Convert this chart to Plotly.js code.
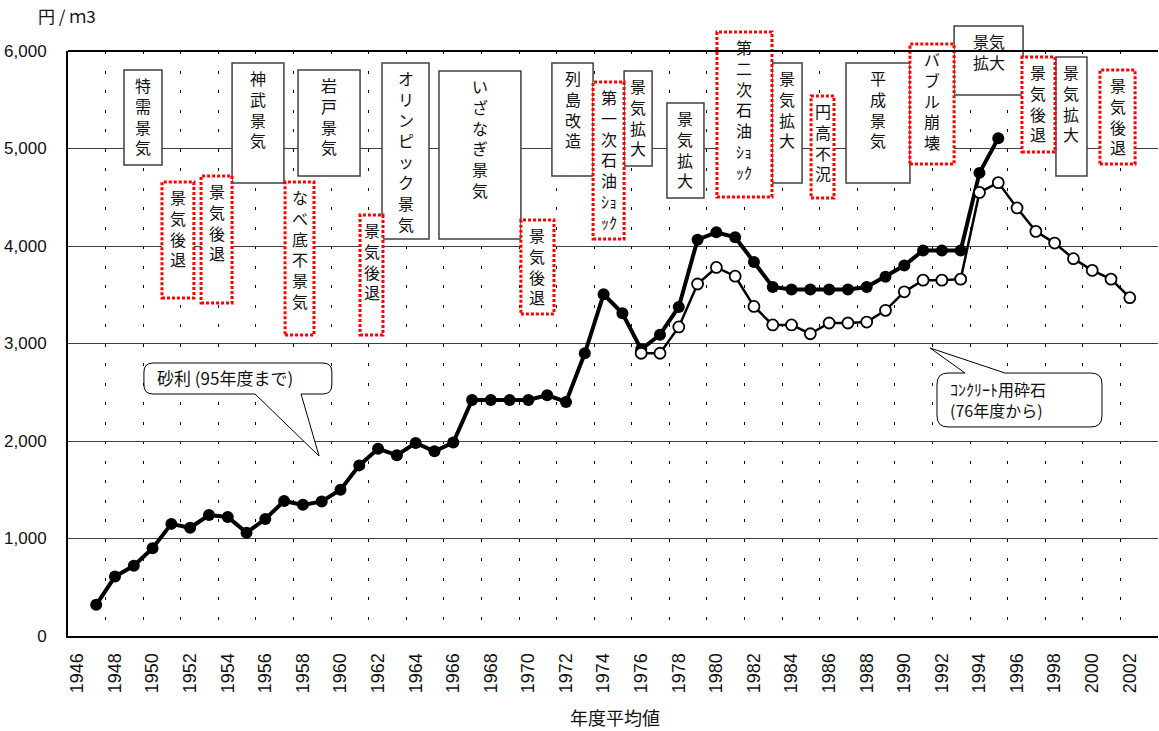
<!DOCTYPE html>
<html><head><meta charset="utf-8">
<script src="https://cdn.plot.ly/plotly-3.0.1.min.js"></script>
<style>html,body{margin:0;padding:0;background:#fff}</style>
</head><body>
<div id="chart" style="width:1159px;height:731px"></div>
<script>
// ---- data ----
const gravelYears = [1947,1948,1949,1950,1951,1952,1953,1954,1955,1956,1957,1958,1959,1960,1961,1962,1963,1964,1965,1966,1967,1968,1969,1970,1971,1972,1973,1974,1975,1976,1977,1978,1979,1980,1981,1982,1983,1984,1985,1986,1987,1988,1989,1990,1991,1992,1993,1994,1995];
const gravelPrice = [320,610,720,900,1150,1110,1240,1220,1060,1200,1385,1345,1380,1500,1750,1920,1855,1980,1895,1985,2420,2420,2420,2420,2470,2400,2900,3505,3310,2940,3090,3375,4065,4140,4090,3835,3580,3555,3555,3555,3555,3580,3685,3800,3955,3955,3955,4750,5105];
const stoneYears = [1976,1977,1978,1979,1980,1981,1982,1983,1984,1985,1986,1987,1988,1989,1990,1991,1992,1993,1994,1995,1996,1997,1998,1999,2000,2001,2002];
const stonePrice = [2900,2900,3170,3610,3780,3690,3380,3190,3190,3100,3210,3210,3220,3340,3530,3650,3650,3660,4550,4650,4390,4150,4030,3870,3750,3660,3470];
const tickYears = [1946,1948,1950,1952,1954,1956,1958,1960,1962,1964,1966,1968,1970,1972,1974,1976,1978,1980,1982,1984,1986,1988,1990,1992,1994,1996,1998,2000,2002];
const tickLabels = tickYears.map(String);
const yTicks = [0,1000,2000,3000,4000,5000,6000];

// ---- business-cycle labels (text rows) ----
const boomLabels = [
  ['特','需','景','気'], ['神','武','景','気'], ['岩','戸','景','気'],
  ['オ','リ','ン','ピ','ッ','ク','景','気'], ['い','ざ','な','ぎ','景','気'],
  ['列','島','改','造'], ['景','気','拡','大'], ['景','気','拡','大'],
  ['景','気','拡','大'], ['平','成','景','気'], ['景気','拡大'], ['景','気','拡','大']
];
const recessionLabels = [
  ['景','気','後','退'], ['景','気','後','退'], ['な','べ','底','不','景','気'],
  ['景','気','後','退'], ['景','気','後','退'], ['第','一','次','石','油','ｼｮ','ｯｸ'],
  ['第','二','次','石','油','ｼｮ','ｯｸ'], ['円','高','不','況'], ['バ','ブ','ル','崩','壊'],
  ['景','気','後','退'], ['景','気','後','退']
];

// ---- layout geometry (axis units) ----
const X_MIN = 1945.5, X_MAX = 2003.5, Y_MAX = 6000;
const PW = 1090, PH = 585;
const px = yr => (yr - X_MIN) / (X_MAX - X_MIN);
const py = v => v / Y_MAX;
const dx = p => p / PW, dy = p => p / PH;

const boomPos = [
  [1948.48,1950.50,5805,4831],[1954.23,1956.99,5877,4646],[1957.74,1961.04,5805,4718],
  [1962.21,1964.71,5877,4072],[1965.24,1969.60,5795,4072],[1971.25,1973.44,5877,4718],
  [1975.09,1976.58,5795,4821],[1977.37,1979.34,5467,4492],[1982.96,1984.56,5877,4646],
  [1986.90,1990.30,5877,4646],[1992.65,1996.32,6256,5549],[1998.07,1999.72,5938,4718]
];
const recPos = [
  [1950.50,1952.20,4656,3467],[1952.58,1954.23,4718,3415],[1957.05,1958.59,4656,3087],
  [1961.04,1962.26,4318,3087],[1969.60,1971.36,4267,3303],[1973.44,1975.09,5682,4072],
  [1980.03,1982.96,6195,4503],[1985.04,1986.26,5538,4492],[1990.30,1992.65,6072,4841],
  [1996.26,1998.02,5938,4964],[2000.41,2002.28,5805,4841]
];

const shapes = [];
const annotations = [];
const CJK = '"Noto Sans CJK JP", "Noto Sans", sans-serif';

function addBox(rows, pos, dotted) {
  const [x0, x1, top, bot] = pos;
  shapes.push({
    type: 'rect', xref: 'paper', yref: 'paper', layer: 'above',
    x0: px(x0), x1: px(x1), y0: py(bot), y1: py(top),
    fillcolor: '#ffffff',
    line: dotted ? {color: '#ff0000', width: 3, dash: '3px,2px'} : {color: '#404040', width: 1.5}
  });
  annotations.push({
    xref: 'paper', yref: 'paper', showarrow: false,
    x: px((x0 + x1) / 2), y: py(top) - dy(1),
    xanchor: 'center', yanchor: 'top', align: 'center', text: rows.join('<br>'),
    font: {family: CJK, size: 16, color: '#111'}
  });
}
boomLabels.forEach((r, i) => addBox(r, boomPos[i], false));
recessionLabels.forEach((r, i) => addBox(r, recPos[i], true));

// top frame line
shapes.push({type: 'line', xref: 'paper', yref: 'paper', x0: 0, x1: 1, y0: 1, y1: 1, line: {color: '#000', width: 2}, layer: 'above'});

// callout bubbles
function callout(x0, x1, top, bot, wedgeTop, wA, wB, tx, ty, r) {
  const X0 = px(x0), X1 = px(x1), T = py(top), B = py(bot);
  const rx = dx(r), ry = dy(r);
  const A = px(wA), Bw = px(wB), TX = px(tx), TY = py(ty);
  let p = `M${X0 + rx},${T}`;
  if (wedgeTop) p += ` L${A},${T} L${TX},${TY} L${Bw},${T}`;
  p += ` L${X1 - rx},${T} Q${X1},${T} ${X1},${T - ry} L${X1},${B + ry} Q${X1},${B} ${X1 - rx},${B}`;
  if (!wedgeTop) p += ` L${Bw},${B} L${TX},${TY} L${A},${B}`;
  p += ` L${X0 + rx},${B} Q${X0},${B} ${X0},${B + ry} L${X0},${T - ry} Q${X0},${T} ${X0 + rx},${T} Z`;
  shapes.push({type: 'path', xref: 'paper', yref: 'paper', path: p, fillcolor: '#ffffff', line: {color: '#000', width: 1}, layer: 'above'});
}
callout(1949.54, 1959.54, 2800, 2482, false, 1955.45, 1957.90, 1958.86, 1846, 9);
callout(1991.74, 2000.52, 2697, 2144, true, 1993.23, 1995.36, 1991.37, 2954, 11);

annotations.push({xref: 'paper', yref: 'paper', showarrow: false, x: px(1950.13), y: py(2656),
  xanchor: 'left', yanchor: 'middle', text: '砂利 (95年度まで)', font: {family: CJK, size: 17, color: '#111'}});
annotations.push({xref: 'paper', yref: 'paper', showarrow: false, x: px(1992.33), y: py(2426),
  xanchor: 'left', yanchor: 'middle', align: 'left', text: 'ｺﾝｸﾘｰﾄ用砕石<br>(76年度から)', font: {family: CJK, size: 16, color: '#111'}});

// titles
annotations.push({xref: 'paper', yref: 'paper', showarrow: false, x: dx(67 - 68), y: dy(636 - 15),
  xanchor: 'center', yanchor: 'middle', text: '円 / ｍ3', font: {family: CJK, size: 17, color: '#111'}});
annotations.push({xref: 'paper', yref: 'paper', showarrow: false, x: dx(615 - 68), y: dy(636 - 717),
  xanchor: 'center', yanchor: 'middle', text: '年度平均値', font: {family: CJK, size: 18, color: '#111'}});
// cut-off bracket note at the very top
annotations.push({xref: 'paper', yref: 'paper', showarrow: false, x: dx(881 - 68), y: dy(636 + 8),
  xanchor: 'center', yanchor: 'middle', text: '(', font: {family: 'Liberation Sans', size: 16, color: '#111'}});
annotations.push({xref: 'paper', yref: 'paper', showarrow: false, x: dx(947 - 68), y: dy(636 + 8),
  xanchor: 'center', yanchor: 'middle', text: ')', font: {family: 'Liberation Sans', size: 16, color: '#111'}});

const traces = [
  {x: gravelYears, y: gravelPrice, type: 'scatter', mode: 'lines+markers', name: '砂利',
   line: {color: '#000', width: 4}, marker: {color: '#000', size: 12}, cliponaxis: false},
  {x: stoneYears, y: stonePrice, type: 'scatter', mode: 'lines+markers', name: 'コンクリート用砕石',
   line: {color: '#000', width: 2.5}, marker: {color: '#fff', size: 11, line: {color: '#000', width: 1.8}}, cliponaxis: false}
];

const layout = {
  width: 1159, height: 731,
  margin: {l: 68, r: 1, t: 51, b: 95},
  paper_bgcolor: '#fff', plot_bgcolor: '#fff',
  showlegend: false,
  xaxis: {
    range: [X_MIN, X_MAX], tickmode: 'array', tickvals: tickYears, ticktext: tickLabels,
    tickangle: -90, ticks: '', showgrid: false, zeroline: false,
    showline: true, linecolor: '#000', linewidth: 2,
    tickfont: {family: '"Liberation Sans", Arial, sans-serif', size: 18, color: '#111'},
    ticklabelstandoff: 8,
    minor: {tickmode: 'linear', tick0: 1947.5, dtick: 2, showgrid: true, gridcolor: '#000', gridwidth: 1, griddash: '3px,16.5px', ticks: ''}
  },
  yaxis: {
    range: [0, Y_MAX], tickmode: 'array', tickvals: yTicks, tickformat: ',d',
    ticks: '', showgrid: true, gridcolor: '#404040', gridwidth: 1, zeroline: false,
    showline: true, linecolor: '#000', linewidth: 2,
    tickfont: {family: '"Liberation Sans", Arial, sans-serif', size: 17, color: '#111'},
    ticklabelstandoff: 16
  },
  shapes: shapes,
  annotations: annotations
};

Plotly.newPlot('chart', traces, layout, {displayModeBar: false, staticPlot: true});
</script>
</body></html>
